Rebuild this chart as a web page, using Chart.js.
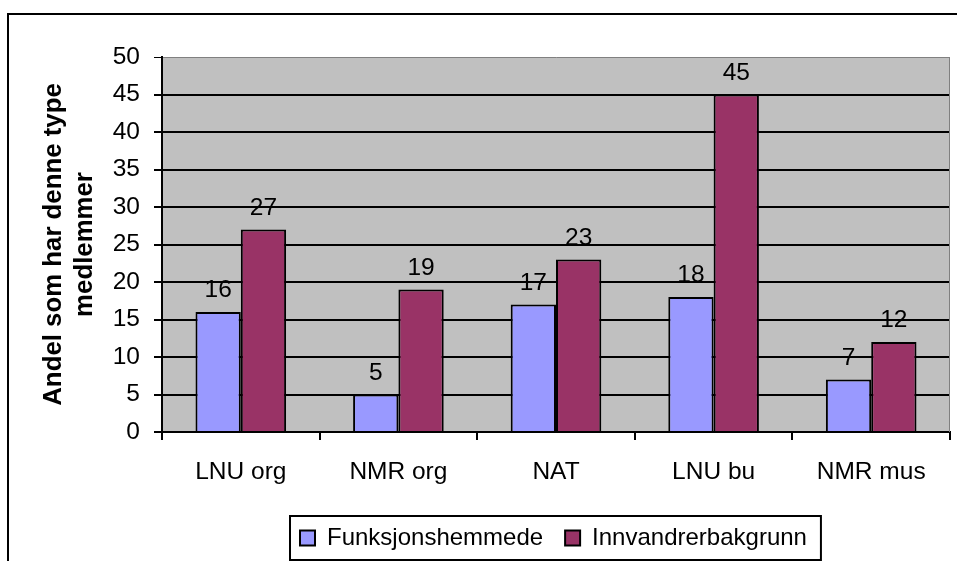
<!DOCTYPE html>
<html>
<head>
<meta charset="utf-8">
<script src="https://cdn.jsdelivr.net/npm/chart.js@4.4.1/dist/chart.umd.min.js"></script>
<style>
  html, body { margin: 0; padding: 0; background: #fff; }
  #wrap { width: 957px; height: 561px; }
</style>
</head>
<body>
<div id="wrap"><canvas id="chart" width="957" height="561"></canvas></div>
<script>
const categories = ['LNU org', 'NMR org', 'NAT', 'LNU bu', 'NMR mus'];
const funksjonshemmede = [16, 5, 17, 18, 7];
const innvandrerbakgrunn = [27, 19, 23, 45, 12];
const yMin = 0;
const yMax = 50;
const yStep = 5;

Chart.defaults.font.family = '"Liberation Sans", Arial, sans-serif';
Chart.defaults.color = '#000';

// white page, outer frame, grey plot area
const frame = {
  id: 'frame',
  beforeDraw(chart) {
    const { ctx, chartArea: a } = chart;
    ctx.save();
    ctx.fillStyle = '#fff';
    ctx.fillRect(0, 0, chart.width, chart.height);
    ctx.strokeStyle = '#000';
    ctx.lineWidth = 2;
    ctx.strokeRect(8, 14, chart.width + 20, chart.height + 20);
    ctx.fillStyle = '#c0c0c0';
    ctx.fillRect(a.left, a.top, a.right - a.left, a.bottom - a.top);
    ctx.restore();
  },
  beforeDatasetsDraw(chart) {
    const { ctx, chartArea: a } = chart;
    ctx.save();
    ctx.strokeStyle = '#808080';
    ctx.lineWidth = 1;
    ctx.beginPath();
    ctx.moveTo(a.right - 0.5, a.top);
    ctx.lineTo(a.right - 0.5, a.bottom);
    ctx.stroke();
    ctx.restore();
  }
};

// move legend under the plot and box it in
const legendBox = {
  id: 'legendBox',
  afterLayout(chart) {
    const lg = chart.legend;
    const pad = lg.options.labels.padding;
    lg.left = 300 - pad;
    lg.top = 538 - pad - 12;
  },
  afterDraw(chart) {
    const hb = chart.legend.legendHitBoxes;
    if (!hb || !hb.length) return;
    const first = hb[0], last = hb[hb.length - 1];
    const cy = first.top + first.height / 2;
    const ctx = chart.ctx;
    ctx.save();
    ctx.strokeStyle = '#000';
    ctx.lineWidth = 2;
    ctx.strokeRect(first.left - 10, cy - 22, last.left + last.width - first.left + 24, 44);
    ctx.restore();
  }
};

const valueLabels = {
  id: 'valueLabels',
  afterDatasetsDraw(chart) {
    const ctx = chart.ctx;
    ctx.save();
    ctx.font = '24.5px "Liberation Sans", Arial, sans-serif';
    ctx.fillStyle = '#000';
    ctx.textAlign = 'center';
    ctx.textBaseline = 'alphabetic';
    chart.data.datasets.forEach((ds, i) => {
      chart.getDatasetMeta(i).data.forEach((bar, j) => {
        ctx.fillText(String(ds.data[j]), bar.x, bar.y - 15);
      });
    });
    ctx.restore();
  }
};

new Chart(document.getElementById('chart'), {
  type: 'bar',
  data: {
    labels: categories,
    datasets: [{
      label: 'Funksjonshemmede',
      data: funksjonshemmede,
      backgroundColor: '#9999ff',
      borderColor: '#000',
      borderWidth: 2
    }, {
      label: 'Innvandrerbakgrunn',
      data: innvandrerbakgrunn,
      backgroundColor: '#993366',
      borderColor: '#000',
      borderWidth: 2
    }]
  },
  options: {
    responsive: false,
    animation: false,
    layout: { padding: { left: 10, right: 7, top: 57, bottom: 0 } },
    datasets: {
      bar: { categoryPercentage: 0.575, barPercentage: 1 }
    },
    plugins: {
      legend: {
        position: 'bottom',
        align: 'start',
        labels: {
          boxWidth: 15,
          boxHeight: 15,
          padding: 22,
          font: { size: 24 }
        }
      },
      tooltip: { enabled: false }
    },
    scales: {
      x: {
        grid: {
          drawOnChartArea: false,
          color: '#000',
          lineWidth: 2,
          tickLength: 8
        },
        border: { color: '#000', width: 2 },
        ticks: { font: { size: 24.5 }, padding: 18 },
        afterFit(scale) { scale.height = 73; }
      },
      y: {
        min: yMin,
        max: yMax,
        ticks: { stepSize: yStep, font: { size: 24.5 }, padding: 14 },
        grid: {
          color: c => c.tick && c.tick.value === yMax ? '#808080' : '#000',
          lineWidth: c => c.tick && c.tick.value === yMax ? 1 : 2,
          tickColor: '#000',
          tickLength: 8
        },
        border: { color: '#000', width: 2 },
        title: {
          display: true,
          text: ['Andel som har denne type', 'medlemmer'],
          font: { size: 25.8, weight: 'bold', lineHeight: 1.2 },
          padding: { top: 28, bottom: 0 }
        },
        afterFit(scale) { scale.width = 152; }
      }
    }
  },
  plugins: [frame, legendBox, valueLabels]
});
</script>
</body>
</html>
